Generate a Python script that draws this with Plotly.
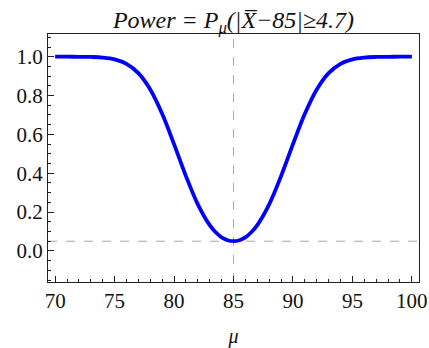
import plotly.graph_objects as go

# Data
mu = [70, 71, 72, 73, 74, 75, 76, 77, 78, 79, 80, 81, 82, 83, 83.5, 84, 84.5, 85,
      85.5, 86, 86.5, 87, 88, 89, 90, 91, 92, 93, 94, 95, 96, 97, 98, 99, 100]
power = [1.000, 1.000, 0.9997, 0.9988, 0.9957, 0.9865, 0.9635, 0.9156, 0.8313, 0.7061,
         0.5498, 0.3852, 0.2399, 0.1327, 0.0960, 0.0701, 0.0551, 0.0500,
         0.0551, 0.0701, 0.0960, 0.1327, 0.2399, 0.3852, 0.5498, 0.7061, 0.8313,
         0.9156, 0.9635, 0.9865, 0.9957, 0.9988, 0.9997, 1.000, 1.000]
null_mean = 85
alpha_level = 0.05
x_ticks = [70, 75, 80, 85, 90, 95, 100]
y_ticks = [0.0, 0.2, 0.4, 0.6, 0.8, 1.0]

font_family = "Liberation Serif"

fig = go.Figure()
fig.add_trace(go.Scatter(x=mu, y=power, mode="lines",
                         line=dict(color="#0000ff", width=3.8, shape="spline", smoothing=1),
                         showlegend=False, hoverinfo="skip"))

fig.add_shape(type="line", xref="x", yref="paper", x0=null_mean, x1=null_mean, y0=0, y1=1,
              line=dict(color="#aaaaaa", width=1, dash="dash"), layer="below")
fig.add_shape(type="line", xref="paper", yref="y", x0=0, x1=1, y0=alpha_level, y1=alpha_level,
              line=dict(color="#aaaaaa", width=1, dash="dash"), layer="below")

axis_common = dict(showline=True, linecolor="#222222", linewidth=1, mirror=True,
                   showgrid=False, zeroline=False, ticks="inside", ticklen=6,
                   tickcolor="#222222", tickwidth=1, automargin=False,
                   tickfont=dict(family=font_family, size=21, color="#111111"))

fig.update_xaxes(range=[69.4, 100.6], tickvals=x_ticks,
                 minor=dict(dtick=1, ticklen=3, ticks="inside", tickcolor="#222222", showgrid=False),
                 title=dict(text="<i>μ</i>", font=dict(family=font_family, size=20, color="#111111"),
                            standoff=18),
                 **axis_common)
fig.update_yaxes(range=[-0.16, 1.117], tickvals=y_ticks, tickformat=".1f",
                 minor=dict(dtick=0.05, ticklen=3, ticks="inside", tickcolor="#222222", showgrid=False),
                 **axis_common)

fig.update_layout(
    width=429, height=348,
    margin=dict(l=48, r=10, t=34, b=66),
    plot_bgcolor="white", paper_bgcolor="white",
    title=dict(text="<i>Power = P<sub>μ</sub>(|X\u0305−85|≥4.7)</i>",
               x=0.5, xref="paper", xanchor="center", y=1, yref="paper", yanchor="bottom",
               pad=dict(b=6),
               font=dict(family=font_family, size=24, color="#111111")),
)

fig.write_html("out.html", config={"displayModeBar": False},
               post_script="document.body.style.margin='0';")
